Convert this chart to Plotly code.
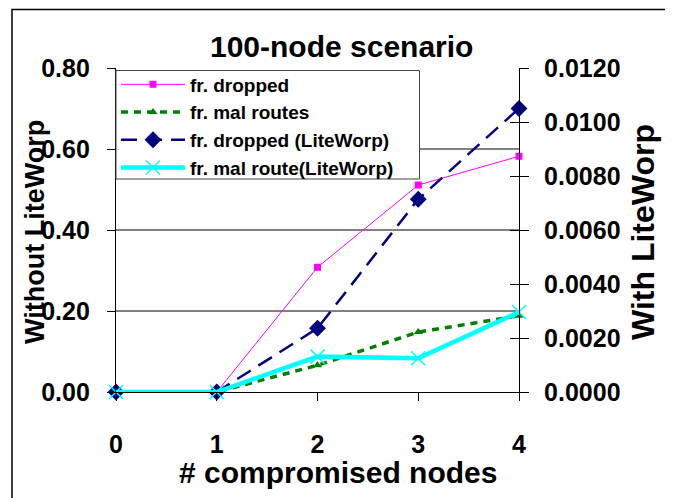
import plotly.graph_objects as go

nodes = [0, 1, 2, 3, 4]
fr_dropped = [0.0, 0.0, 0.308, 0.511, 0.582]
fr_mal_routes = [0.0, 0.0, 0.066, 0.148, 0.188]
fr_dropped_lw = [0.0, 0.0, 0.00236, 0.00714, 0.0105]
fr_mal_route_lw = [0.0, 0.0, 0.00131, 0.00125, 0.00296]

left_ticks = [0.0, 0.2, 0.4, 0.6, 0.8]
right_ticks = [0.0, 0.002, 0.004, 0.006, 0.008, 0.010, 0.012]

FONT = "Liberation Sans, Arial, sans-serif"

# the page body adds an 8px margin, so work in shifted pixel coordinates
OFF = 8
W, H = 673 - OFF, 498 - OFF
# plot area in screen pixels: x 116..519, y 68..392
L, R, T, B = 116 - OFF, 519 - OFF, 68 - OFF, 392 - OFF


def px(x):
    return (x - OFF - L) / (R - L)


def py(y):
    return (B - (y - OFF)) / (B - T)


fig = go.Figure()

fig.add_trace(go.Scatter(
    x=nodes, y=fr_dropped, name="fr. dropped", mode="lines+markers",
    line=dict(color="#FF00FF", width=1),
    marker=dict(symbol="square", size=7, color="#FF00FF"),
    cliponaxis=False
))
fig.add_trace(go.Scatter(
    x=nodes, y=fr_mal_routes, name="fr. mal routes", mode="lines+markers",
    line=dict(color="#008000", width=3.5, dash="7px,6px"),
    marker=dict(symbol="triangle-up", size=8, color="#008000"),
    cliponaxis=False
))
fig.add_trace(go.Scatter(
    x=nodes, y=fr_dropped_lw, name="fr. dropped (LiteWorp)", mode="lines+markers",
    yaxis="y2",
    line=dict(color="#000080", width=2.5, dash="16px,9px"),
    marker=dict(symbol="diamond", size=13, color="#000080"),
    cliponaxis=False
))
fig.add_trace(go.Scatter(
    x=nodes, y=fr_mal_route_lw, name="fr. mal route(LiteWorp)", mode="lines+markers",
    yaxis="y2",
    line=dict(color="#00FFFF", width=4.5),
    marker=dict(symbol="x-thin-open", size=14, color="#00FFFF",
                line=dict(color="#00FFFF", width=1.5)),
    cliponaxis=False
))
# empty trace so the crossing ticks of the right axis get drawn
fig.add_trace(go.Scatter(x=[None], y=[None], yaxis="y3", showlegend=False,
                         hoverinfo="skip"))

axis_font = dict(family=FONT, size=25, color="black", weight="bold")

fig.update_layout(
    width=W, height=H,
    margin=dict(l=L, r=W - R, t=T, b=H - B, pad=0),
    paper_bgcolor="white", plot_bgcolor="white",
    font=dict(family=FONT, color="black", weight="bold"),
    showlegend=True,
    xaxis=dict(
        range=[0, 4], tickvals=nodes, showgrid=False, zeroline=False,
        showline=True, linecolor="black", linewidth=1.2,
        ticks="outside", ticklen=8, tickcolor="black", tickwidth=1.2,
        tickfont=axis_font, ticklabelstandoff=22
    ),
    yaxis=dict(
        range=[0, 0.8], tickvals=left_ticks, tickformat=".2f",
        showgrid=True, gridcolor="#808080", gridwidth=1.5, zeroline=False,
        showline=True, linecolor="black", linewidth=1.2,
        ticks="outside", ticklen=8, tickcolor="black", tickwidth=1.2,
        tickfont=axis_font, ticklabelstandoff=12
    ),
    yaxis2=dict(
        range=[0, 0.012], tickvals=right_ticks, tickformat=".4f",
        overlaying="y", side="right", anchor="x",
        showgrid=False, zeroline=False,
        showline=True, linecolor="black", linewidth=1.2,
        ticks="outside", ticklen=9, tickcolor="black", tickwidth=1.2,
        tickfont=axis_font, ticklabelstandoff=10
    ),
    yaxis3=dict(
        range=[0, 0.012], tickvals=right_ticks,
        overlaying="y", side="right", anchor="x",
        showgrid=False, zeroline=False, showticklabels=False,
        ticks="inside", ticklen=9, tickcolor="black", tickwidth=1.2
    ),
    # legend box is drawn as a shape below, the legend itself is transparent
    legend=dict(
        x=0, y=py(65.5), xanchor="left", yanchor="top",
        bgcolor="rgba(0,0,0,0)", borderwidth=0,
        font=dict(family=FONT, size=19, color="black", weight="bold"),
        itemwidth=64, tracegroupgap=0
    ),
)

fig.add_shape(type="rect", xref="paper", yref="paper",
              x0=px(116), x1=px(419.5), y0=py(179), y1=py(70.5),
              line=dict(color="#404040", width=1), fillcolor="white",
              layer="above")

fig.add_annotation(text="100-node scenario", x=px(341), y=py(47),
                   xref="paper", yref="paper", showarrow=False,
                   xanchor="center", yanchor="middle",
                   font=dict(family=FONT, size=30, color="black", weight="bold"))
fig.add_annotation(text="# compromised nodes", x=px(337.5), y=py(472),
                   xref="paper", yref="paper", showarrow=False,
                   xanchor="center", yanchor="middle",
                   font=dict(family=FONT, size=30, color="black", weight="bold"))
fig.add_annotation(text="Without LiteWorp", x=px(35), y=py(232),
                   xref="paper", yref="paper", showarrow=False, textangle=-90,
                   xanchor="center", yanchor="middle",
                   font=dict(family=FONT, size=27, color="black", weight="bold"))
fig.add_annotation(text="With LiteWorp", x=px(643), y=py(232),
                   xref="paper", yref="paper", showarrow=False, textangle=-90,
                   xanchor="center", yanchor="middle",
                   font=dict(family=FONT, size=32, color="black", weight="bold"))

# outer frame of the chart
fig.add_shape(type="rect", xref="paper", yref="paper",
              x0=px(12), x1=px(669), y0=py(510), y1=py(9.5),
              line=dict(color="black", width=1.5), fillcolor="rgba(0,0,0,0)",
              layer="below")

fig.write_html("out.html")
